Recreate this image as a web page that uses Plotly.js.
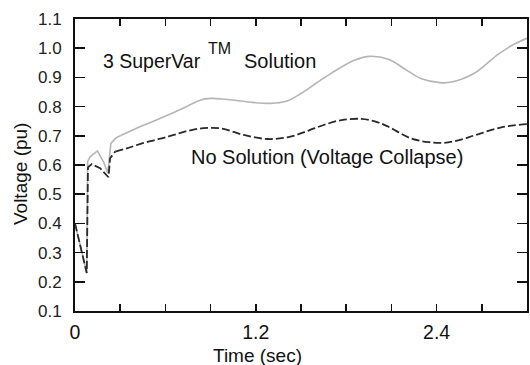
<!DOCTYPE html>
<html>
<head>
<meta charset="utf-8">
<script src="https://cdn.plot.ly/plotly-3.0.1.min.js"></script>
<style>html,body{margin:0;padding:0;background:#fff;}#chart{width:530px;height:365px;}</style>
</head>
<body>
<div id="chart"></div>
<script>
// Time (sec) and voltage (pu)
const superVarEarlyT = [0, 0.078, 0.084, 0.1, 0.149, 0.19, 0.218, 0.238, 0.27, 0.3];
const superVarEarlyV = [0.40, 0.23, 0.612, 0.628, 0.648, 0.61, 0.572, 0.674, 0.692, 0.70];
const superVarT = [0.3, 0.45, 0.567, 0.7, 0.83, 0.9, 1.0, 1.15, 1.3, 1.4, 1.5, 1.6, 1.7, 1.85, 1.95, 2.08, 2.2, 2.3, 2.42, 2.5, 2.65, 2.81, 2.92, 3.0];
const superVarV = [0.70, 0.735, 0.76, 0.79, 0.822, 0.828, 0.825, 0.816, 0.811, 0.818, 0.845, 0.88, 0.914, 0.958, 0.972, 0.962, 0.925, 0.895, 0.882, 0.884, 0.914, 0.98, 1.015, 1.034];

const collapseEarlyT = [0, 0.078, 0.086, 0.111, 0.167, 0.222, 0.233, 0.267];
const collapseEarlyV = [0.40, 0.23, 0.592, 0.603, 0.589, 0.558, 0.623, 0.646];
const collapseT = [0.267, 0.344, 0.45, 0.567, 0.656, 0.75, 0.85, 0.97, 1.12, 1.28, 1.43, 1.55, 1.65, 1.77, 1.9, 2.0, 2.08, 2.23, 2.35, 2.45, 2.55, 2.66, 2.83, 3.0];
const collapseV = [0.646, 0.657, 0.675, 0.69, 0.703, 0.717, 0.726, 0.725, 0.703, 0.689, 0.697, 0.718, 0.737, 0.754, 0.758, 0.748, 0.731, 0.691, 0.678, 0.676, 0.685, 0.703, 0.729, 0.74];

const xTickVals = [0, 0.3, 0.6, 0.9, 1.2, 1.5, 1.8, 2.1, 2.4, 2.7, 3.0];
const xTickText = ['0', '', '', '', '1.2', '', '', '', '2.4', '', ''];
const yTickVals = [0.1, 0.2, 0.3, 0.4, 0.5, 0.6, 0.7, 0.8, 0.9, 1.0, 1.1];

const grayLine = {color: '#b5b5b5', width: 1.6};
const darkLine = {color: '#2a2a2a', width: 1.8, dash: '8px,3px'};
const FONT = 'Arial, "Liberation Sans", sans-serif';

const traces = [
  {x: superVarEarlyT, y: superVarEarlyV, mode: 'lines', line: Object.assign({shape: 'linear'}, grayLine), hoverinfo: 'skip'},
  {x: superVarT, y: superVarV, mode: 'lines', line: Object.assign({shape: 'spline', smoothing: 1}, grayLine), hoverinfo: 'skip'},
  {x: collapseEarlyT, y: collapseEarlyV, mode: 'lines', line: Object.assign({shape: 'linear'}, darkLine), hoverinfo: 'skip'},
  {x: collapseT, y: collapseV, mode: 'lines', line: Object.assign({shape: 'spline', smoothing: 1}, darkLine), hoverinfo: 'skip'}
];

const txt = (t, x, y, size, extra) => Object.assign({text: t, x: x, y: y, xref: 'x', yref: 'y', showarrow: false,
  font: {family: FONT, size: size, color: '#111'}, xanchor: 'center', yanchor: 'middle'}, extra || {});

const layout = {
  width: 530, height: 365,
  margin: {l: 75, r: 3, t: 19, b: 54},
  paper_bgcolor: '#fff', plot_bgcolor: '#fff',
  showlegend: false,
  font: {family: FONT, color: '#111'},
  xaxis: {
    range: [0, 3.0], tickvals: xTickVals, ticktext: xTickText,
    ticks: 'inside', ticklen: 7, tickwidth: 1.5, tickcolor: '#111',
    showline: true, linecolor: '#111', linewidth: 2, mirror: 'ticks',
    showgrid: false, zeroline: false, ticklabelstandoff: 3,
    tickfont: {family: FONT, size: 19.5, color: '#111'}
  },
  yaxis: {
    range: [0.1, 1.1], tickvals: yTickVals, tickformat: '.1f',
    ticks: 'inside', ticklen: 10, tickwidth: 1.5, tickcolor: '#111',
    showline: true, linecolor: '#111', linewidth: 2, mirror: 'ticks',
    showgrid: false, zeroline: false, ticklabelstandoff: 8,
    tickfont: {family: FONT, size: 17, color: '#222'}
  },
  annotations: [
    txt('3 SuperVar', 0.513, 0.956, 19.5),
    txt('TM', 0.96, 1.0, 16),
    txt('Solution', 1.36, 0.956, 20),
    txt('No Solution (Voltage Collapse)', 1.673, 0.626, 20),
    txt('Time (sec)', 1.213, -0.154, 19, {yref: 'paper'}),
    txt('Voltage (pu)', -0.1217, 0.569, 19, {xref: 'paper', textangle: -90})
  ]
};

Plotly.newPlot('chart', traces, layout, {staticPlot: true, displayModeBar: false});
</script>
</body>
</html>
